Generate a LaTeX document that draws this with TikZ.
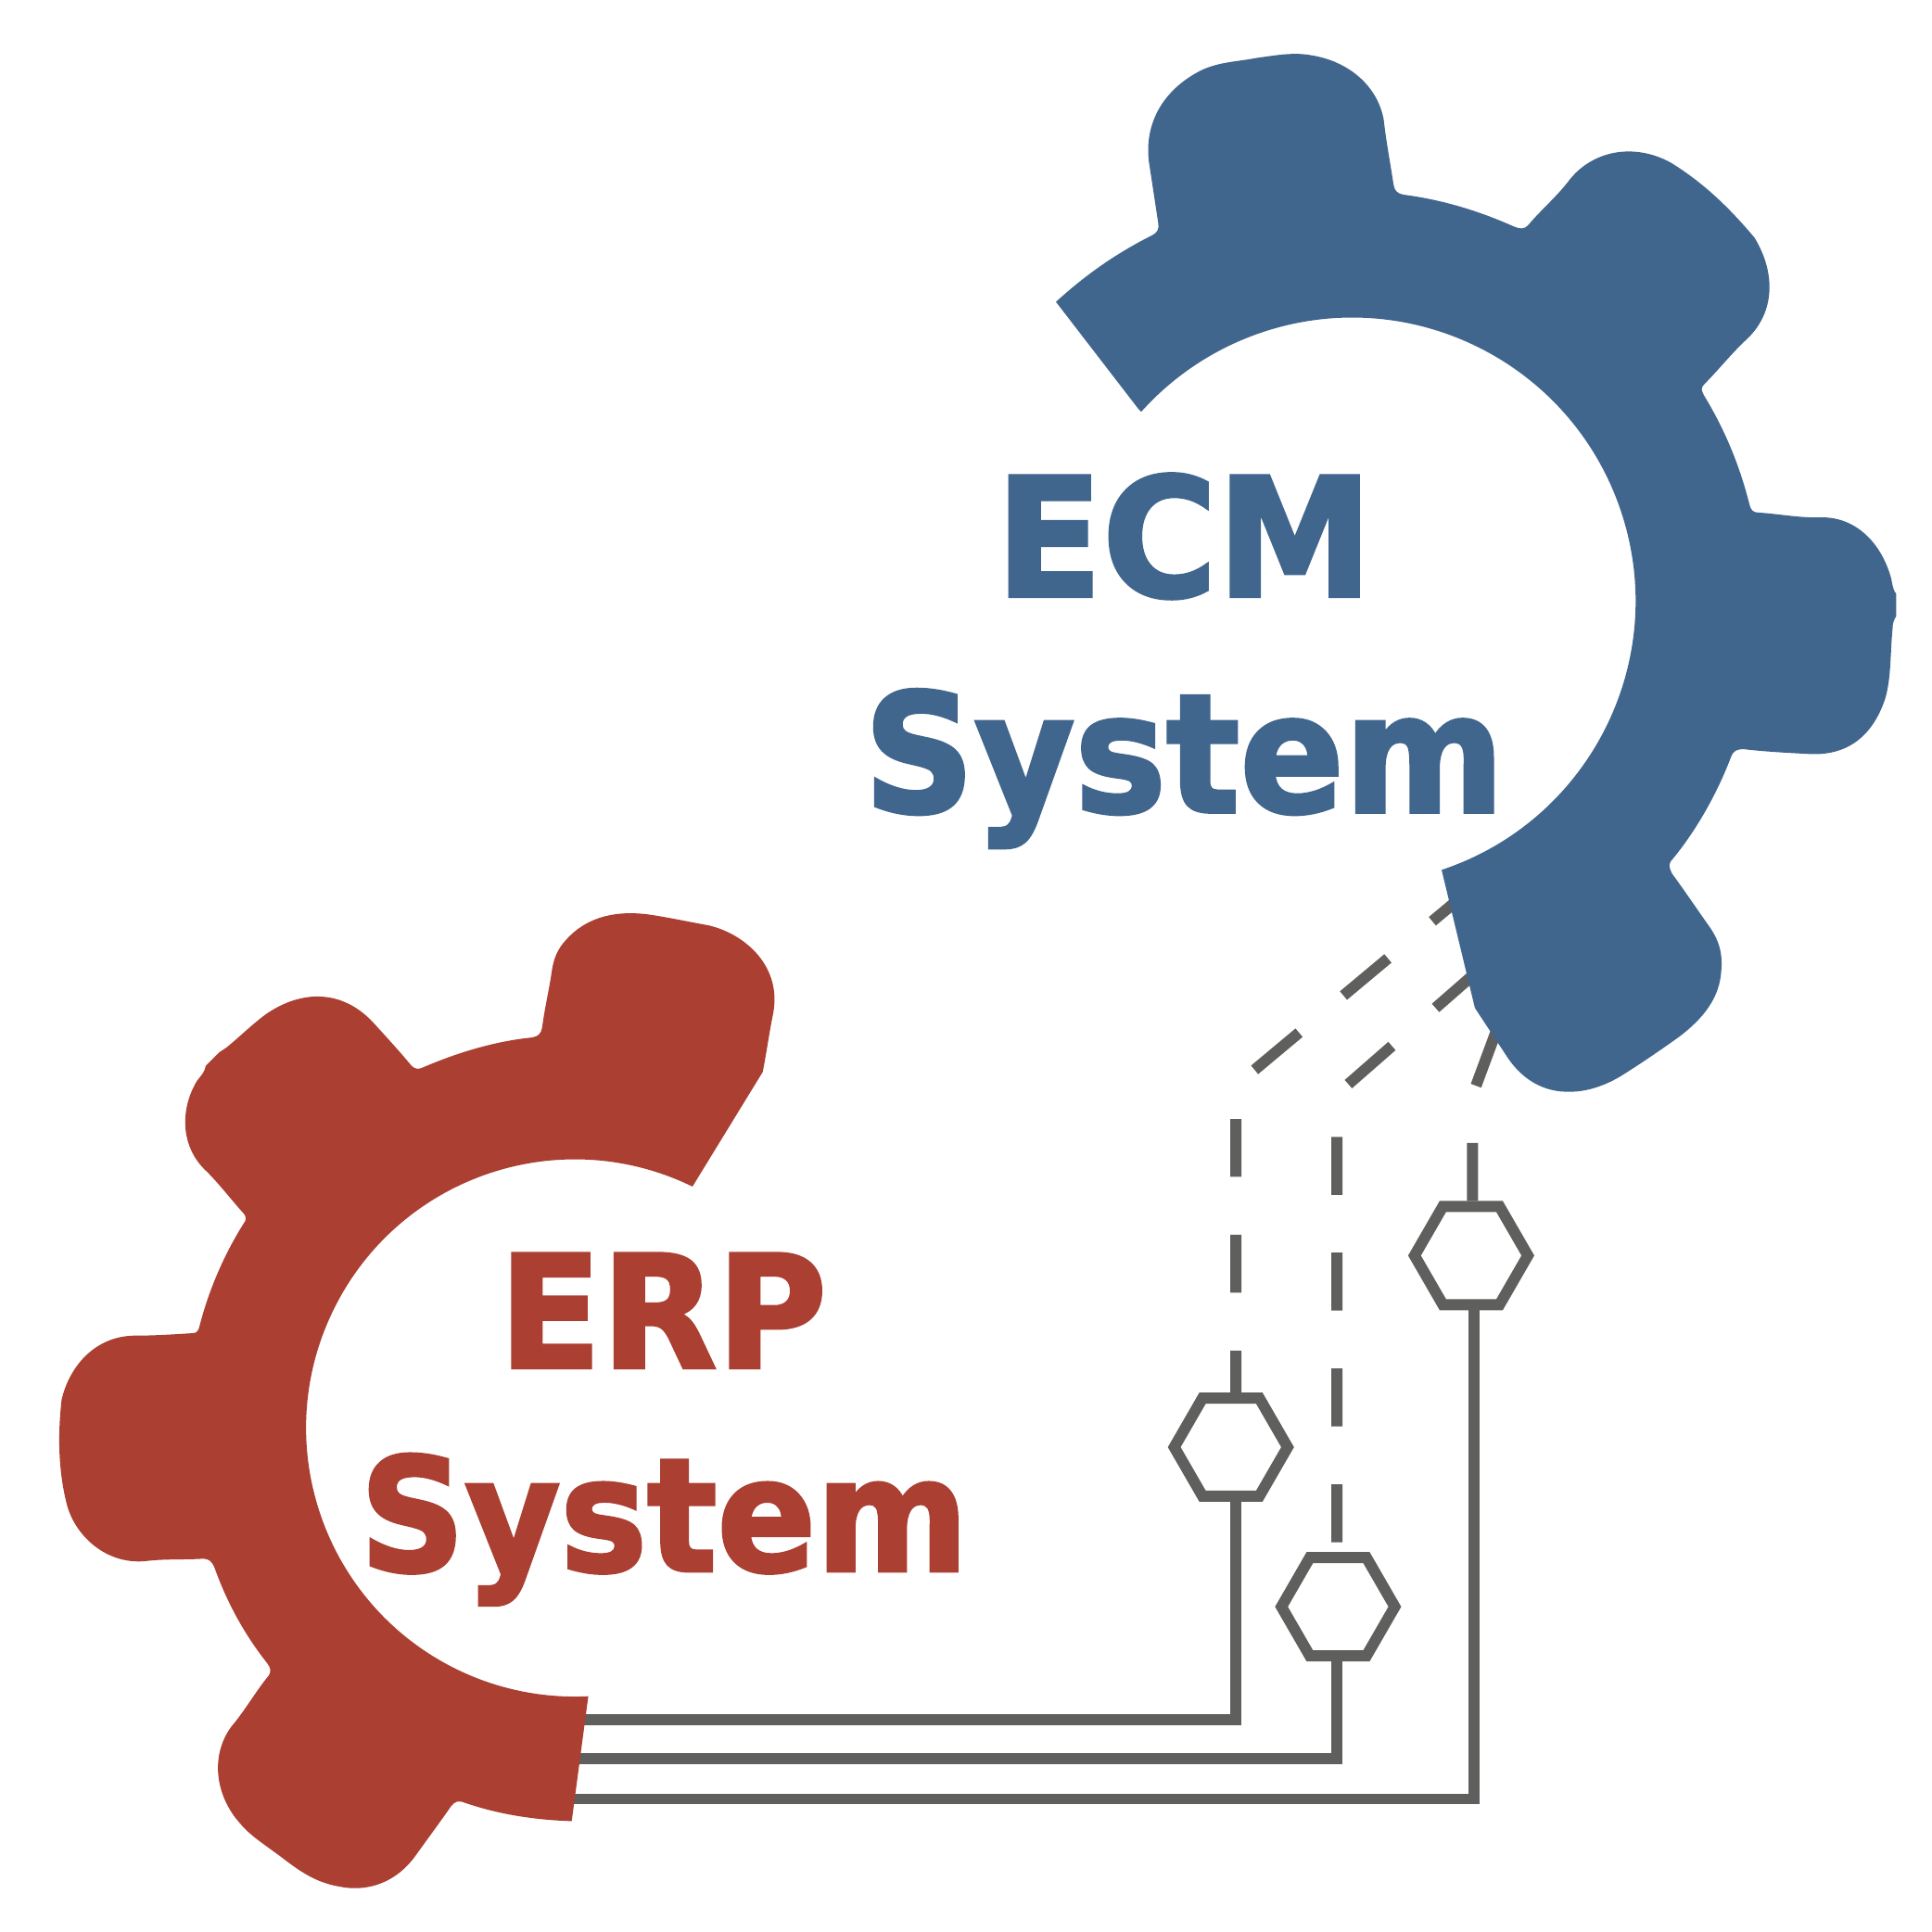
\documentclass[tikz,border=0pt]{standalone}
\usepackage{fontspec}
\usetikzlibrary{shapes.geometric,calc}
\newfontfamily\heavyfont[FakeBold=2.2]{DejaVu Sans Bold}
\definecolor{gearblue}{HTML}{41668E}
\definecolor{gearred}{HTML}{AB3F32}
\definecolor{wire}{HTML}{5F5F5D}
\tikzset{
  x=0.5pt,y=-0.5pt,
  hexnode/.style={regular polygon,regular polygon sides=6,draw=wire,line width=4.5pt,minimum size=46pt,inner sep=0pt,fill=white},
  wirepath/.style={draw=wire,line width=4.5pt,miter limit=10},
  dashpath/.style={draw=wire,line width=4.5pt,dash pattern=on 23.5pt off 23.5pt},
  gearlabel/.style={inner sep=0pt,outer sep=0pt,anchor=base west},
}
\begin{document}
\begin{tikzpicture}
\useasboundingbox (0,0) rectangle (1568,1568);
% hexagons
\node[hexnode] (H1) at (1194,1019) {};
\node[hexnode] (H2) at (999,1174.5) {};
\node[hexnode] (H3) at (1086,1304) {};
% named bends
\coordinate (d1) at (1003,881);
\coordinate (d1e) at (1198,718);
\coordinate (d2) at (1085,888);
\coordinate (d2e) at (1220,770);
\coordinate (d3) at (1195,889);
\coordinate (d3e) at (1228,800);
\coordinate (s1) at (1196,1460);
\coordinate (s2) at (1003,1396);
\coordinate (s3) at (1085,1427);
\coordinate (g1) at (440,1460);
\coordinate (g2) at (440,1396);
\coordinate (g3) at (440,1427);
% dashed links
\draw[dashpath,dash phase=6.5pt] (H2.north -| d1) -- (d1) -- (d1e);
\draw[dashpath,dash phase=43pt] (H3.north -| d2) -- (d2) -- (d2e);
\draw[dashpath] (H1.north -| d3) -- (d3) -- (d3e);
% solid links
\draw[wirepath] (H1.south -| s1) -- (s1) -- (g1);
\draw[wirepath] (H2.south -| s2) -- (s2) -- (g2);
\draw[wirepath] (H3.south -| s3) -- (s3) -- (g3);
% blue gear
\fill[gearblue] (924,332) -- (857,245)
 .. controls (880,224) and (905,206) .. (935,191)
 .. controls (939,189) and (941,186) .. (940,181)
 -- (933,135)
 .. controls (927,100) and (945,72) .. (975,57)
 .. controls (990,50) and (1005,50) .. (1020,47)
 .. controls (1035,45) and (1050,42) .. (1065,45)
 .. controls (1095,50) and (1118,70) .. (1123,97)
 .. controls (1125,115) and (1128,130) .. (1131,150)
 .. controls (1132,155) and (1134,157) .. (1139,158)
 .. controls (1170,162) and (1200,171) .. (1229,184)
 .. controls (1234,186) and (1237,186) .. (1240,183)
 .. controls (1250,171) and (1263,160) .. (1273,147)
 .. controls (1291,123) and (1325,115) .. (1356,132)
 .. controls (1382,148) and (1403,168) .. (1424,193)
 .. controls (1441,221) and (1441,253) .. (1418,275)
 .. controls (1405,287) and (1395,300) .. (1383,312)
 .. controls (1380,315) and (1381,317) .. (1383,321)
 .. controls (1400,349) and (1412,378) .. (1420,410)
 .. controls (1421,414) and (1423,416) .. (1427,416)
 .. controls (1443,417) and (1458,420) .. (1475,420)
 .. controls (1505,418) and (1527,440) .. (1535,470)
 .. controls (1536,476) and (1537,480) .. (1539,482)
 -- (1539,500)
 .. controls (1537,503) and (1536,506) .. (1536,510)
 .. controls (1534,530) and (1535,550) .. (1530,567)
 .. controls (1520,597) and (1500,613) .. (1470,612)
 .. controls (1450,611) and (1432,610) .. (1415,608)
 .. controls (1410,608) and (1407,609) .. (1405,614)
 .. controls (1394,643) and (1377,674) .. (1356,699)
 .. controls (1354,702) and (1355,705) .. (1357,709)
 .. controls (1368,724) and (1378,739) .. (1388,753)
 .. controls (1396,765) and (1398,775) .. (1397,787)
 .. controls (1396,810) and (1382,827) .. (1362,842)
 .. controls (1348,852) and (1332,863) .. (1316,873)
 .. controls (1303,881) and (1288,886) .. (1275,886)
 .. controls (1252,887) and (1235,875) .. (1224,859)
 -- (1197,818) -- (1170,706) arc[start angle=71.6,end angle=-138.1,radius=230] -- cycle;
% red gear
\fill[gearred] (562,963) arc[start angle=-64,end angle=-272.9,radius=218] -- (464,1478)
 .. controls (432,1477) and (403,1472) .. (377,1463)
 .. controls (372,1461) and (369,1462) .. (366,1466)
 .. controls (357,1479) and (348,1491) .. (338,1505)
 .. controls (322,1528) and (298,1536) .. (275,1531)
 .. controls (257,1528) and (244,1519) .. (232,1510)
 .. controls (218,1499) and (204,1491) .. (195,1480)
 .. controls (175,1458) and (170,1425) .. (188,1401)
 .. controls (199,1388) and (208,1372) .. (218,1360)
 .. controls (220,1357) and (220,1354) .. (217,1350)
 .. controls (198,1326) and (184,1300) .. (174,1272)
 .. controls (172,1267) and (169,1265) .. (165,1265)
 .. controls (150,1266) and (133,1265) .. (118,1267)
 .. controls (85,1270) and (60,1245) .. (54,1220)
 .. controls (47,1192) and (47,1163) .. (50,1136)
 .. controls (56,1110) and (76,1085) .. (108,1084)
 .. controls (125,1084) and (140,1083) .. (156,1082)
 .. controls (160,1082) and (161,1080) .. (162,1076)
 .. controls (170,1045) and (183,1016) .. (199,991)
 .. controls (200,988) and (199,986) .. (197,984)
 .. controls (188,974) and (178,961) .. (168,951)
 .. controls (146,931) and (146,900) .. (160,877)
 .. controls (164,872) and (166,870) .. (167,865)
 -- (178,854) -- (184,850)
 .. controls (195,841) and (205,831) .. (216,823)
 .. controls (245,803) and (278,803) .. (303,830)
 .. controls (313,841) and (325,854) .. (334,865)
 .. controls (337,868) and (340,868) .. (344,866)
 .. controls (372,854) and (402,845) .. (432,842)
 .. controls (437,841) and (439,839) .. (440,834)
 .. controls (442,818) and (446,802) .. (448,787)
 .. controls (450,775) and (454,768) .. (462,760)
 .. controls (478,744) and (500,739) .. (525,742)
 .. controls (540,744) and (558,748) .. (575,751)
 .. controls (605,758) and (636,785) .. (627,825)
 .. controls (624,840) and (622,855) .. (619,870)
 -- cycle;
% labels
\node[gearlabel,text=gearblue] (ecm) at (808,484) {\fontsize{67}{67}\heavyfont\resizebox{153pt}{\height}{ECM}};
\node[gearlabel,text=gearblue] (sys1) at (701,659) {\fontsize{67}{67}\heavyfont\resizebox{260pt}{\height}{System}};
\node[gearlabel,text=gearred] (erp) at (405,1110) {\fontsize{63.5}{63.5}\heavyfont\resizebox{133pt}{\height}{ERP}};
\node[gearlabel,text=gearred] (sys2) at (292,1275) {\fontsize{64}{64}\heavyfont\resizebox{247pt}{\height}{System}};
\end{tikzpicture}
\end{document}
